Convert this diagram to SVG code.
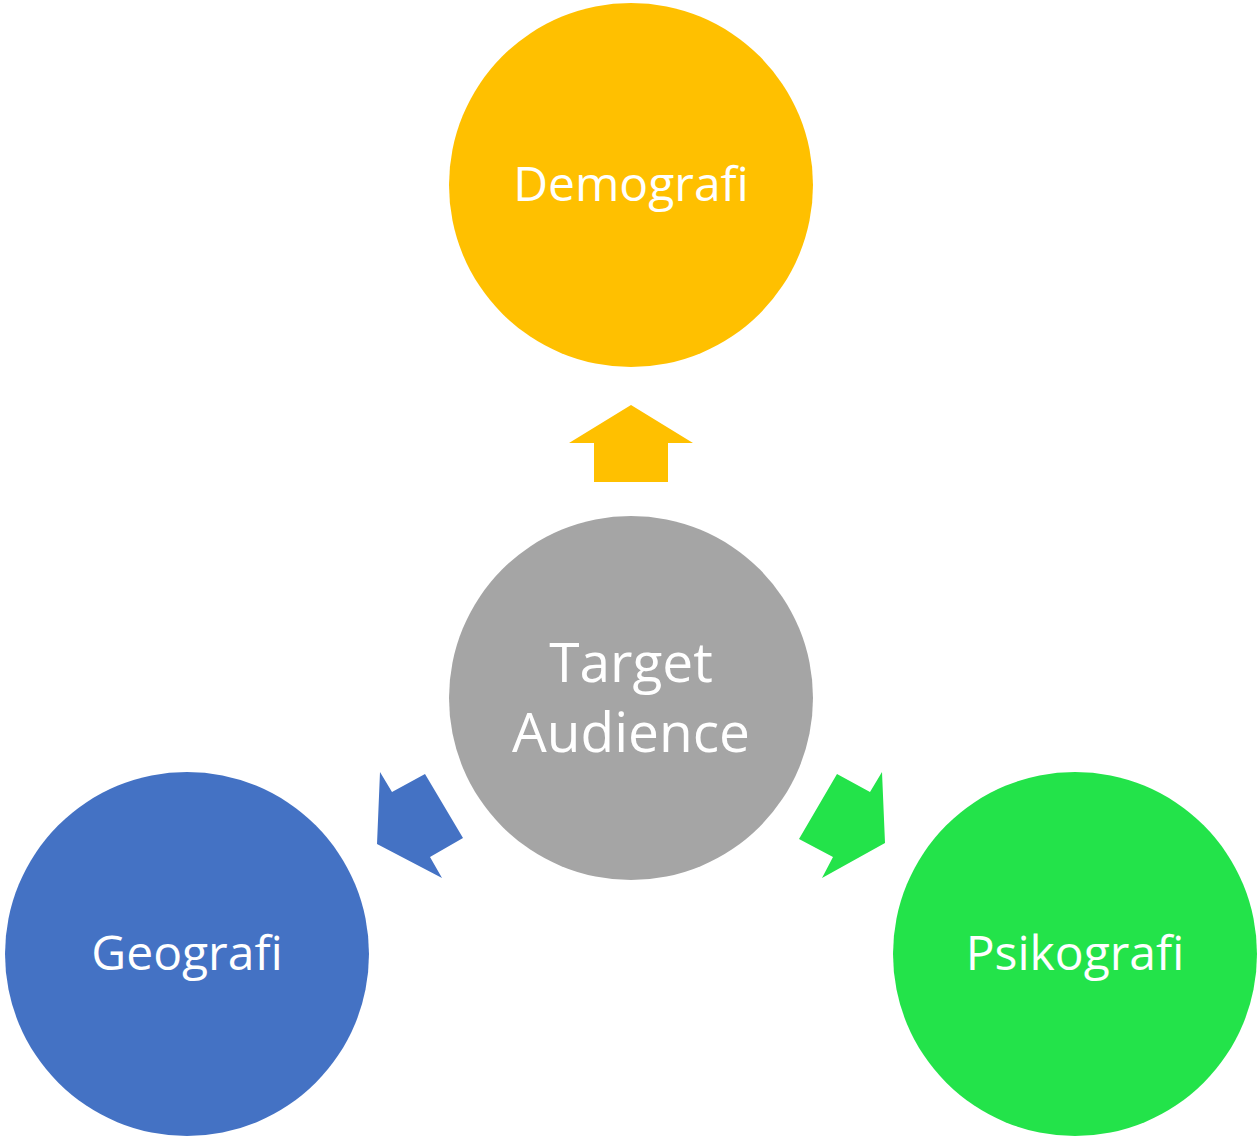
<svg xmlns="http://www.w3.org/2000/svg" width="1260" height="1139" viewBox="0 0 1260 1139">
<style>
.lbl{font-family:"Open Sans","Noto Sans",sans-serif;font-size:48px;fill:#fff;text-anchor:middle}
.big{font-size:55px}
</style>
<rect width="1260" height="1139" fill="#fff"/>
<g id="connectors">
<polygon fill="#FFC000" points="631,405 569,443 594,443 594,482 668,482 668,443 693,443"/>
<polygon fill="#4472C4" points="380,772 392,792 425,774 463,838 430,857 442,878 377,844"/>
<polygon fill="#23E34A" points="882,772 870,792 837,774 799,839 833,857 822,878 885,843"/>
</g>
<g id="demografi">
<circle cx="631" cy="185" r="182" fill="#FFC000"/>
<text class="lbl" x="631" y="201">Demografi</text>
</g>
<g id="target">
<circle cx="631" cy="698" r="182" fill="#A5A5A5"/>
<text class="lbl big" x="631" y="682">Target</text>
<text class="lbl big" x="631" y="752">Audience</text>
</g>
<g id="geografi">
<circle cx="187" cy="954" r="182" fill="#4472C4"/>
<text class="lbl" x="187" y="970">Geografi</text>
</g>
<g id="psikografi">
<circle cx="1075" cy="954" r="182" fill="#23E34A"/>
<text class="lbl" x="1075" y="970">Psikografi</text>
</g>
</svg>
